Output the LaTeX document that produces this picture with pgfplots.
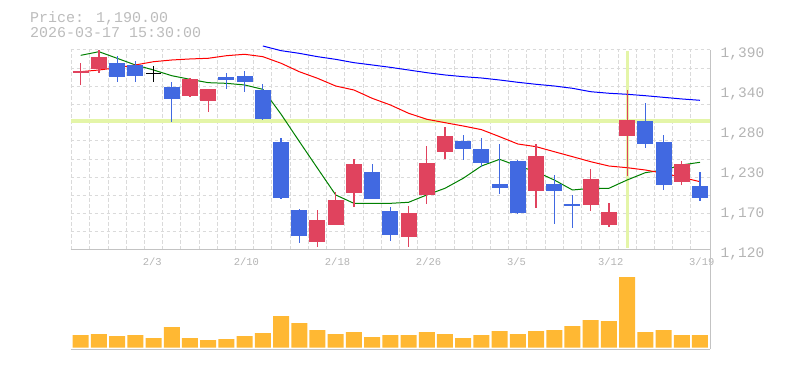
\documentclass[border=0pt]{standalone}
\usepackage{pgfplots}
\pgfplotsset{compat=1.18}
\usepackage{pgfplotstable}
\usepackage{fontspec}
\setmainfont{Liberation Mono}
\definecolor{upc}{RGB}{224,67,94}
\definecolor{downc}{RGB}{65,105,225}
\definecolor{volc}{RGB}{255,184,51}
\definecolor{gridc}{RGB}{218,218,218}
\definecolor{axc}{RGB}{195,195,195}
\definecolor{labc}{RGB}{180,180,180}
\definecolor{titc}{RGB}{188,188,188}
\definecolor{crossc}{RGB}{228,245,168}
\definecolor{maA}{RGB}{0,128,0}
\definecolor{maB}{RGB}{255,0,0}
\definecolor{maC}{RGB}{0,0,255}

\pgfplotstableread{
i o h l c
0 1359.0 1372.9 1342.8 1361.6
1 1364.4 1390.0 1359.4 1381.0
6 1328.3 1352.6 1327.0 1350.9
7 1321.6 1337.4 1306.7 1337.4
13 1131.2 1174.0 1123.6 1160.5
14 1154.2 1198.3 1154.2 1187.5
15 1197.4 1242.9 1177.6 1236.1
18 1138.0 1179.8 1124.5 1170.0
19 1193.8 1260.4 1181.7 1237.5
20 1252.7 1286.5 1242.9 1273.9
25 1200.1 1263.1 1177.1 1246.9
28 1181.2 1229.4 1173.1 1215.9
29 1154.2 1183.5 1151.5 1171.3
30 1274.3 1336.0 1219.9 1295.5
33 1212.2 1240.2 1207.8 1236.1
}\up

\pgfplotstableread{
i o h l c
2 1372.9 1382.3 1347.2 1354.0
3 1370.2 1375.6 1347.2 1355.3
5 1340.5 1347.2 1293.2 1324.3
8 1353.5 1359.4 1337.8 1349.9
9 1354.9 1361.6 1333.3 1346.8
10 1336.0 1344.1 1295.5 1296.9
11 1266.2 1271.6 1189.3 1190.6
12 1174.0 1175.4 1129.9 1139.3
16 1225.3 1236.1 1189.3 1189.3
17 1172.6 1178.5 1131.7 1140.7
21 1267.2 1275.3 1241.9 1256.8
22 1256.4 1270.8 1232.5 1237.9
23 1209.1 1263.1 1195.6 1204.1
24 1240.2 1241.5 1169.0 1170.0
26 1209.1 1221.3 1155.5 1200.1
27 1182.1 1194.3 1150.1 1179.8
31 1294.2 1318.5 1258.0 1262.7
32 1265.8 1275.3 1201.4 1208.2
34 1206.4 1225.3 1186.2 1190.0
}\down

\pgfplotstableread{
i o h l c
4 1358.5 1368.4 1347.2 1358.5
}\doji

\pgfplotstableread{
i v
0 1382.8
1 1387.7
2 1378.8
3 1369.8
4 1363.0
5 1355.3
6 1350.4
7 1345.9
8 1345.0
9 1342.8
10 1336.9
11 1303.3
12 1266.6
13 1230.4
14 1194.3
15 1183.0
16 1183.0
17 1183.0
18 1184.4
19 1194.3
20 1203.3
21 1216.8
22 1233.4
23 1242.4
24 1233.4
25 1225.7
26 1214.5
27 1201.0
28 1203.3
29 1203.3
30 1214.5
31 1224.4
32 1228.0
33 1234.8
34 1238.4
}\maone

\pgfplotstableread{
i v
0 1360.7
1 1363.0
2 1366.1
3 1369.8
4 1374.2
5 1376.5
6 1377.9
7 1378.8
8 1382.3
9 1384.2
10 1381.0
11 1372.1
12 1360.7
13 1351.8
14 1341.4
15 1336.0
16 1324.8
17 1315.8
18 1304.6
19 1296.5
20 1291.9
21 1287.4
22 1282.5
23 1273.0
24 1263.1
25 1259.5
26 1252.7
27 1246.0
28 1239.2
29 1233.4
30 1231.1
31 1228.0
32 1223.6
33 1218.1
34 1212.2
}\matwo

\pgfplotstableread{
i v
10 1395.4
11 1389.1
12 1385.5
13 1381.0
14 1377.4
15 1372.9
16 1369.8
17 1366.6
18 1363.0
19 1359.4
20 1356.3
21 1354.0
22 1352.2
23 1349.5
24 1346.4
25 1343.7
26 1341.4
27 1338.3
28 1333.7
29 1331.6
30 1330.2
31 1328.3
32 1326.1
33 1323.9
34 1322.1
}\mathree

\pgfplotstableread{
i v
0 127
1 137
2 117
3 127
4 97
5 207
6 97
7 77
8 87
9 117
10 147
11 317
12 247
13 177
14 137
15 157
16 107
17 127
18 127
19 157
20 137
21 97
22 127
23 167
24 137
25 167
26 177
27 217
28 277
29 267
30 707
31 157
32 177
33 127
34 127
}\vol

\pgfplotsset{
  mygrid/.style={
    minor grid style={draw=gridc, dash pattern=on 3.5bp off 2.5bp, line width=1bp},
    major tick length=0pt, minor tick length=0pt,
    axis line style={draw=axc, line width=1bp},
  },
  wick/.style={draw=none, mark=none, error bars/.cd, y dir=both, y explicit, error mark=none,
    error bar style={draw=#1, line width=1.2bp}},
  body/.style={draw=none, mark=none, error bars/.cd, y dir=both, y explicit, error mark=none,
    error bar style={draw=#1, line width=16bp}},
}

\begin{document}
\begin{tikzpicture}
\useasboundingbox (0,0) rectangle (785bp,370bp);
\node[anchor=base west, inner sep=0pt, text=titc, font=\fontsize{15bp}{15bp}\selectfont] at (30bp,347.3bp) {Price: 1,190.00};
\node[anchor=base west, inner sep=0pt, text=titc, font=\fontsize{15bp}{15bp}\selectfont] at (30bp,332.3bp) {2026-03-17 15:30:00};

\begin{axis}[
  at={(70.5bp,120bp)}, anchor=south west, scale only axis,
  width=639.5bp, height=200bp,
  xmin=-0.56, xmax=34.55, ymin=1120, ymax=1390, clip=false,
  axis x line*=bottom, axis y line*=right, mygrid,
  xtick={4,9,14,19,24,29,34},
  xticklabels={2/3,2/10,2/18,2/26,3/5,3/12,3/19},
  xticklabel style={anchor=base west, inner sep=0pt, xshift=-11bp, yshift=-16bp, text=labc, font=\fontsize{10.5bp}{10.5bp}\selectfont},
  ytick={1120,1174,1228,1282,1336,1390},
  yticklabels={{1,120},{1,170},{1,230},{1,280},{1,340},{1,390}},
  yticklabel style={anchor=base west, inner sep=0pt, xshift=10.5bp, yshift=-7.3bp, text=labc, font=\fontsize{14.5bp}{14.5bp}\selectfont},
  minor xtick={-0.5,0.5,...,33.5},
  minor ytick={1144.545,1169.091,1193.636,1218.182,1242.727,1267.273,1291.818,1316.364,1340.909,1365.455,1390},
  xminorgrids=true, yminorgrids=true,
]
\addplot[crossc, line width=3.4bp, mark=none] coordinates {(-0.56,1294.15) (34.55,1294.15)};
\addplot[crossc, line width=3bp, mark=none] coordinates {(30,1388.5) (30,1122.5)};

\addplot[maA, line width=1bp, mark=none] table[x=i, y=v] {\maone};
\addplot[maB, line width=1bp, mark=none] table[x=i, y=v] {\matwo};
\addplot[maC, line width=1bp, mark=none] table[x=i, y=v] {\mathree};

\addplot[wick=upc] table[x=i, y expr={(\thisrow{h}+\thisrow{l})/2}, y error expr={(\thisrow{h}-\thisrow{l})/2}] {\up};
\addplot[body=upc] table[x=i, y expr={(\thisrow{o}+\thisrow{c})/2}, y error expr={abs(\thisrow{c}-\thisrow{o})/2}] {\up};
\addplot[wick=downc] table[x=i, y expr={(\thisrow{h}+\thisrow{l})/2}, y error expr={(\thisrow{h}-\thisrow{l})/2}] {\down};
\addplot[body=downc] table[x=i, y expr={(\thisrow{o}+\thisrow{c})/2}, y error expr={abs(\thisrow{c}-\thisrow{o})/2}] {\down};
\addplot[wick=black] table[x=i, y expr={(\thisrow{h}+\thisrow{l})/2}, y error expr={(\thisrow{h}-\thisrow{l})/2}] {\doji};
\addplot[draw=none, mark=none, error bars/.cd, x dir=both, x fixed=0.42, error mark=none,
  error bar style={draw=black, line width=1.2bp}] table[x=i, y=o] {\doji};
\end{axis}

\begin{axis}[
  at={(70.5bp,21bp)}, anchor=south west, scale only axis,
  width=639.5bp, height=99bp,
  xmin=-0.56, xmax=34.55, ymin=-13, ymax=977,
  axis x line*=bottom, axis y line*=right, mygrid,
  xtick=\empty, ytick=\empty,
  minor xtick={-0.5,0.5,...,33.5},
  xminorgrids=true,
]
\addplot[ybar, bar width=16bp, fill=volc, draw=none] table[x=i, y=v] {\vol};
\end{axis}
\end{tikzpicture}
\end{document}
